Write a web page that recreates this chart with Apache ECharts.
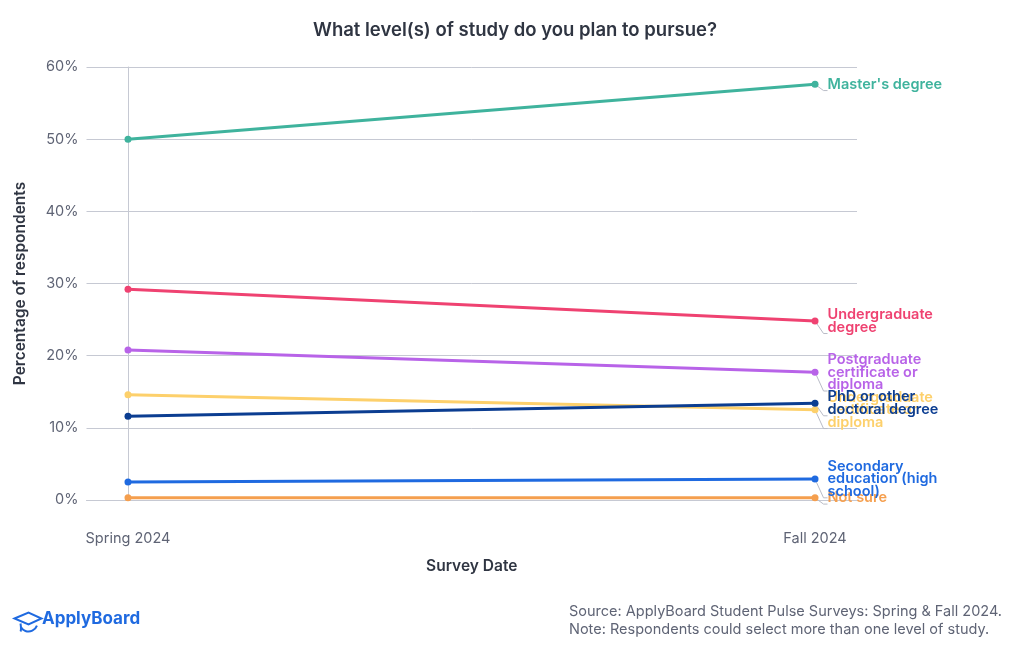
<!DOCTYPE html>
<html><head><meta charset="utf-8">
<style>html,body{margin:0;padding:0;background:#fff}#c{width:1020px;height:650px}</style>
<script src="https://cdn.jsdelivr.net/npm/echarts@6/dist/echarts.min.js"></script>
</head><body><div id="c"></div>
<script>
const surveyDates = ['Spring 2024', 'Fall 2024'];
const yTicks = [0, 10, 20, 30, 40, 50, 60];
const masters = [50.0, 57.6];
const undergrad = [29.2, 24.8];
const postgrad = [20.8, 17.7];
const ugCert = [14.6, 12.5];
const phd = [11.6, 13.4];
const secondary = [2.5, 2.9];
const notSure = [0.3, 0.3];

const FONT = 'Inter';
const TEXT = '#5f6475', DARK = '#2f3542', GRID = '#c6c9d3', BLUE = '#1f6ae0';

function line(name, values, color, labelText, dy) {
  return {
    name, type: 'line', data: values.map((v, i) => i === values.length - 1 ? {
      value: [i, v],
      label: { show: true, position: 'right', distance: 9, formatter: labelText, color,
        fontFamily: FONT, fontSize: 14.5, fontWeight: 600, lineHeight: 12.5, align: 'left' },
      labelLayout: { dy },
      labelLine: { show: dy !== 0 || true, length2: 4, lineStyle: { color: '#b9bcc7', width: 1 } }
    } : { value: [i, v] }),
    symbol: 'circle', symbolSize: 7, silent: true, animation: false,
    lineStyle: { color, width: 3 }, itemStyle: { color },
    labelLine: { show: true, lineStyle: { color: '#b9bcc7', width: 1 } }
  };
}

const chart = echarts.init(document.getElementById('c'), null, { renderer: 'canvas' });
chart.setOption({
  animation: false,
  backgroundColor: '#fff',
  title: [
    { text: 'What level(s) of study do you plan to pursue?', left: 510, top: 16, textAlign: 'center',
      textStyle: { color: DARK, fontFamily: FONT, fontSize: 18.5, fontWeight: 600 } },
    { text: 'Source: ApplyBoard Student Pulse Surveys: Spring & Fall 2024.\nNote: Respondents could select more than one level of study.',
      left: 569, top: 603, padding: 0,
      textStyle: { color: TEXT, fontFamily: FONT, fontSize: 14.5, fontWeight: 400, lineHeight: 18 } }
  ],
  grid: { left: 86.5, right: 163, top: 67, bottom: 150 },
  xAxis: {
    type: 'value', min: -0.0604, max: 1.0611,
    name: 'Survey Date', nameLocation: 'middle', nameGap: 58,
    nameTextStyle: { color: DARK, fontFamily: FONT, fontSize: 15.5, fontWeight: 600 },
    axisLine: { show: true, lineStyle: { color: GRID } },
    axisTick: { show: false }, splitLine: { show: false },
    axisLabel: { customValues: [0, 1], formatter: v => surveyDates[v], margin: 31,
      color: TEXT, fontFamily: FONT, fontSize: 14.5 }
  },
  yAxis: {
    type: 'value', min: yTicks[0], max: yTicks[yTicks.length - 1], interval: 10,
    name: 'Percentage of respondents', nameLocation: 'middle', nameGap: 58,
    nameTextStyle: { color: DARK, fontFamily: FONT, fontSize: 15.5, fontWeight: 600 },
    axisLine: { show: true, lineStyle: { color: GRID } },
    axisTick: { show: false },
    splitLine: { show: true, lineStyle: { color: GRID, width: 1 } },
    axisLabel: { formatter: '{value}%', margin: 8, color: TEXT, fontFamily: FONT, fontSize: 14.5 }
  },
  series: [
    line('Not sure', notSure, '#f59f4e', 'Not sure', 15),
    line('Secondary education (high school)', secondary, BLUE, 'Secondary\neducation (high\nschool)', 2),
    line('Undergraduate certificate or diploma', ugCert, '#fdd06b', 'Undergraduate\ncertificate or\ndiploma', 26.5),
    line('PhD or other doctoral degree', phd, '#0b3d91', 'PhD or other\ndoctoral degree', -5.5),
    line('Postgraduate certificate or diploma', postgrad, '#b863e8', 'Postgraduate\ncertificate or\ndiploma', -12.5),
    line('Undergraduate degree', undergrad, '#ef4271', 'Undergraduate\ndegree', 0),
    line("Master's degree", masters, '#3fb39d', "Master's degree", 0)
  ],
  graphic: [
    { type: 'text', left: 42, top: 610, style: { text: 'ApplyBoard', fill: BLUE, font: '700 17px Inter' } },
    { type: 'group', left: 12, top: 610, children: [
      { type: 'polygon', shape: { points: [[0,6],[14,0],[27,6],[14,12]] }, style: { fill: 'none', stroke: BLUE, lineWidth: 2 } },
      { type: 'bezierCurve', shape: { x1: 6, y1: 11, x2: 6, y2: 19, cpx1: 7, cpy1: 17, cpx2: 6, cpy2: 19 }, style: { fill: 'none', stroke: BLUE, lineWidth: 2 } },
      { type: 'arc', shape: { cx: 14, cy: 10, r: 9, startAngle: 0.35, endAngle: 2.6 }, style: { fill: 'none', stroke: BLUE, lineWidth: 2 } }
    ] }
  ]
});
</script></body></html>
